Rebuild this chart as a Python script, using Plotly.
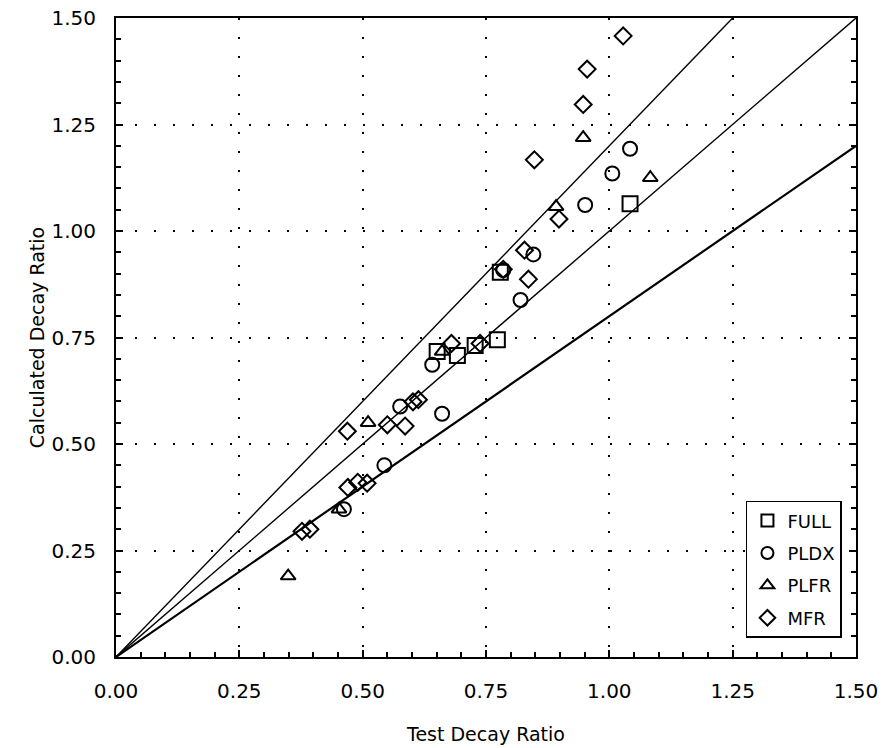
import plotly.graph_objects as go

full_x = [0.651, 0.692, 0.728, 0.773, 0.779, 1.042]
full_y = [0.717, 0.708, 0.731, 0.745, 0.903, 1.064]

pldx_x = [0.462, 0.544, 0.576, 0.641, 0.661, 0.785, 0.820, 0.846, 0.951, 1.006, 1.042]
pldx_y = [0.347, 0.450, 0.588, 0.686, 0.571, 0.908, 0.838, 0.945, 1.061, 1.135, 1.193]

plfr_x = [0.349, 0.452, 0.511, 0.661, 0.892, 0.947, 1.083]
plfr_y = [0.190, 0.347, 0.550, 0.717, 1.057, 1.219, 1.125]

mfr_x = [0.377, 0.393, 0.469, 0.470, 0.490, 0.509, 0.550, 0.586, 0.602, 0.613, 0.680, 0.738,
         0.785, 0.828, 0.836, 0.848, 0.898, 0.947, 0.955, 1.028]
mfr_y = [0.295, 0.300, 0.530, 0.398, 0.410, 0.408, 0.545, 0.542, 0.599, 0.604, 0.736, 0.736,
         0.910, 0.955, 0.887, 1.167, 1.028, 1.297, 1.380, 1.458]

ratios = [1.2, 1.0, 0.8]

FONT = "DejaVu Sans, Verdana, sans-serif"

fig = go.Figure()

for r in ratios:
    xe = min(1.5, 1.5 / r)
    fig.add_trace(go.Scatter(x=[0.0, xe], y=[0.0, xe * r], mode="lines",
                             line=dict(color="black", width=2.2 if r == 0.8 else 1.4),
                             showlegend=False, hoverinfo="skip"))

series = [("FULL", full_x, full_y, "square-open", 15),
          ("PLDX", pldx_x, pldx_y, "circle-open", 14),
          ("PLFR", plfr_x, plfr_y, "triangle-up-open", 13),
          ("MFR", mfr_x, mfr_y, "diamond-open", 13)]
for name, xs, ys, sym, sz in series:
    fig.add_trace(go.Scatter(x=xs, y=ys, mode="markers", name=name, legendgroup=name,
                             marker=dict(symbol=sym, size=sz, color="black",
                                         line=dict(color="black", width=2))))

axis_common = dict(
    range=[0, 1.5], dtick=0.25, tickformat=".2f", automargin=False,
    ticklabeloverflow="allow",
    showline=True, linecolor="black", linewidth=2,
    ticks="inside", ticklen=7, tickwidth=1.5, tickcolor="black",
    showgrid=True, gridcolor="black", gridwidth=1.5, griddash="2px,17px",
    zeroline=False,
    minor=dict(dtick=0.05, ticks="inside", ticklen=5, tickwidth=1.5, tickcolor="black", showgrid=False),
    tickfont=dict(family=FONT, size=20, color="black"),
)

fig.update_layout(
    width=882, height=748,
    paper_bgcolor="white", plot_bgcolor="white",
    margin=dict(l=116, r=26, t=18, b=91),
    font=dict(family=FONT, size=18, color="black"),
    xaxis=dict(axis_common, mirror=True, ticklabelstandoff=15,
               title=dict(text="Test Decay Ratio", standoff=26,
                          font=dict(family=FONT, size=19))),
    yaxis=dict(axis_common, mirror="allticks", ticklabelstandoff=14,
               title=dict(text="Calculated Decay Ratio", standoff=2,
                          font=dict(family=FONT, size=19))),
    legend=dict(x=0.981, y=0.03, xanchor="right", yanchor="bottom",
                bordercolor="black", borderwidth=1.5, bgcolor="white",
                font=dict(family=FONT, size=18), itemsizing="constant",
                tracegroupgap=6, itemwidth=30),
    showlegend=True,
)

fig.write_html("out.html", config={"displayModeBar": False},
               post_script="document.body.style.margin='0';document.body.style.overflow='hidden';")
